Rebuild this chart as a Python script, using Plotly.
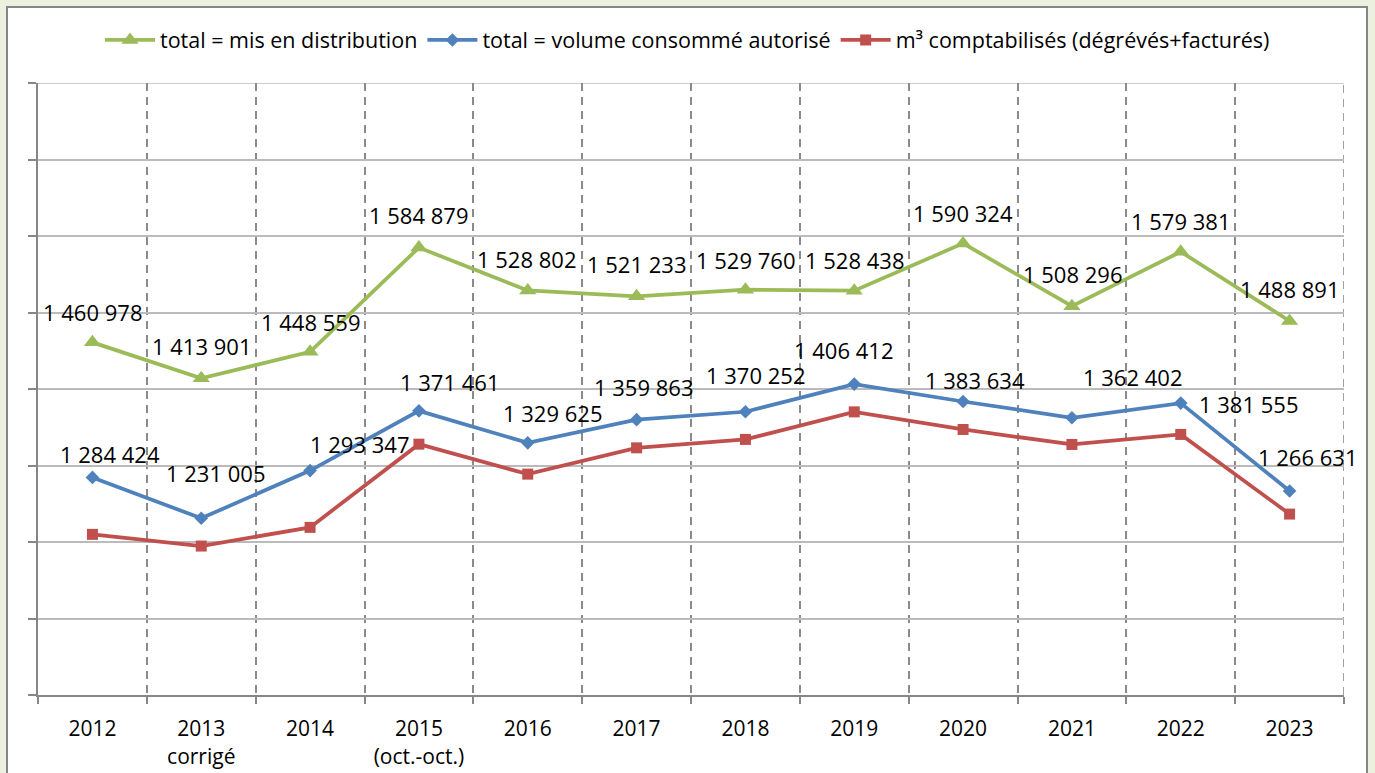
import plotly.graph_objects as go

categories = ["2012", "2013<br>corrigé", "2014", "2015<br>(oct.-oct.)", "2016", "2017",
              "2018", "2019", "2020", "2021", "2022", "2023"]
distribution = [1460978, 1413901, 1448559, 1584879, 1528802, 1521233,
                1529760, 1528438, 1590324, 1508296, 1579381, 1488891]
consomme = [1284424, 1231005, 1293347, 1371461, 1329625, 1359863,
            1370252, 1406412, 1383634, 1362402, 1381555, 1266631]
comptabilises = [1210000, 1194700, 1219100, 1327900, 1288700, 1323100,
                 1334100, 1370100, 1347100, 1327500, 1340600, 1236500]

names = ["total = mis en distribution", "total = volume consommé autorisé",
         "m³ comptabilisés (dégrévés+facturés)"]

# label offsets in pixels (dx right, dy up)
green_dx = [0, 0, 0, 0, -1, 0, 0, 0, 0, 1, 0, 0]
green_dy = [30, 32, 30, 33, 31, 32, 30, 31, 30, 32, 31, 32]
blue_dx = [18, 14, 49, 31, 25, 7, 10, -11, 12, 61, 68, 18]
blue_dy = [23, 45, 27, 29, 30, 33, 37, 34, 22, 41, -1, 34]

Y_MIN, Y_MAX, Y_STEP = 1000000, 1800000, 100000

GREEN = "#9BBB59"
BLUE = "#4F81BD"
RED = "#C0504D"
FONT = "Open Sans"
HGRID = "#BBBBBB"
VGRID = "#8A8A8A"
VDASH = "8px,6px"

fig = go.Figure()
fig.add_trace(go.Scatter(x=categories, y=distribution, name=names[0], mode="lines+markers",
                         line=dict(color=GREEN, width=3.75),
                         marker=dict(symbol="triangle-up", size=15, color=GREEN)))
fig.add_trace(go.Scatter(x=categories, y=consomme, name=names[1], mode="lines+markers",
                         line=dict(color=BLUE, width=3.75),
                         marker=dict(symbol="diamond", size=10.5, color=BLUE)))
fig.add_trace(go.Scatter(x=categories, y=comptabilises, name=names[2], mode="lines+markers",
                         line=dict(color=RED, width=3.75),
                         marker=dict(symbol="square", size=11, color=RED)))

def fmt(v):
    return f"{v:,}".replace(",", " ")

annotations = []
for i, c in enumerate(categories):
    annotations.append(dict(x=i, y=distribution[i], text=fmt(distribution[i]), showarrow=False,
                            xref="x", yref="y",
                            xshift=green_dx[i], yshift=green_dy[i],
                            font=dict(family=FONT, size=22, color="#000000")))
    annotations.append(dict(x=i, y=consomme[i], text=fmt(consomme[i]), showarrow=False,
                            xref="x", yref="y",
                            xshift=blue_dx[i], yshift=blue_dy[i],
                            font=dict(family=FONT, size=22, color="#000000")))

# chart box (white with gray border) on light green page
L, R, T, B = 38, 31, 83, 78
PW, PH = 1375 - L - R, 773 - T - B
def px_x(p):
    return (p - L) / PW
def px_y(p):
    return (773 - B - p) / PH

n = len(categories)
shapes = [
    dict(type="rect", xref="paper", yref="paper", layer="below",
         x0=px_x(7), x1=px_x(1367), y0=px_y(800), y1=px_y(7),
         fillcolor="#FFFFFF", line=dict(color="#868686", width=2)),
    # top gridline (upper edge of the value axis)
    dict(type="line", xref="paper", yref="y", layer="below",
         x0=0, x1=1, y0=Y_MAX, y1=Y_MAX, line=dict(color=HGRID, width=1.6)),
    # last category boundary (right edge)
    dict(type="line", xref="x", yref="paper", layer="below",
         x0=n - 0.5, x1=n - 0.5, y0=0, y1=1, line=dict(color=VGRID, width=1.6, dash=VDASH)),
]

fig.update_layout(
    width=1375, height=773,
    margin=dict(l=L, r=R, t=T, b=B, autoexpand=False),
    paper_bgcolor="#EBF1DE",
    plot_bgcolor="#FFFFFF",
    font=dict(family=FONT, size=21, color="#000000"),
    showlegend=True,
    legend=dict(orientation="h", x=0.5, xanchor="center", xref="container",
                y=1 - 40 / 773, yanchor="middle", yref="container",
                itemwidth=50,
                font=dict(family=FONT, size=21.5, color="#000000"),
                bgcolor="rgba(0,0,0,0)"),
    annotations=annotations,
    shapes=shapes,
    xaxis=dict(type="category", range=[-0.5, n - 0.5], tickson="boundaries",
               showgrid=True, gridcolor=VGRID, gridwidth=1.6, griddash=VDASH,
               showline=True, linecolor="#878787", linewidth=2,
               ticks="outside", ticklen=7, tickcolor="#878787", tickwidth=1.6,
               ticklabelstandoff=14, tickfont=dict(family=FONT, size=21, color="#000000"),
               zeroline=False, fixedrange=True, automargin=False),
    yaxis=dict(range=[Y_MIN, Y_MAX], dtick=Y_STEP, tick0=Y_MIN,
               showticklabels=False, showgrid=True, gridcolor=HGRID, gridwidth=1.6,
               showline=True, linecolor="#878787", linewidth=2,
               ticks="outside", ticklen=8, tickcolor="#878787", tickwidth=1.6,
               zeroline=False, fixedrange=True, automargin=False),
)

fig.write_html("out.html", config={"displayModeBar": False},
               post_script="document.body.style.margin='0';document.body.style.overflow='hidden';")
